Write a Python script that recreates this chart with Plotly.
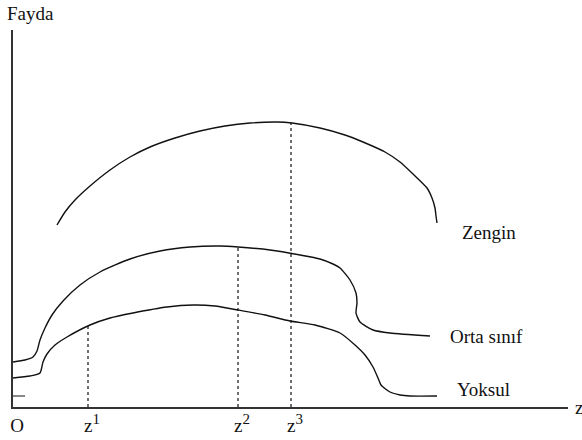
import plotly.graph_objects as go

# curve points (x = income z, y = utility)
zengin_x = [44, 52, 62, 77, 97, 117, 137, 162, 187, 212, 237, 264, 279, 307, 332, 350, 372, 387, 400, 414, 419, 422, 423, 424]
zengin_y = [182, 195, 207, 221, 237, 250, 260, 269, 276, 281, 284, 285, 284, 279, 272, 265, 255, 245, 233, 219, 209, 199, 191, 184]

orta_x = [0, 12, 20, 24, 27, 32, 39, 50, 67, 87, 117, 147, 177, 207, 225, 257, 287, 307, 320, 327, 337, 343, 344, 343, 347, 360, 377, 417]
orta_y = [45, 47, 50, 56, 67, 79, 92, 106, 122, 135, 148, 156, 160, 161, 160, 157, 152, 148, 143, 139, 127, 114, 104, 94, 85, 77, 74, 71]

yoksul_x = [0, 17, 27, 30, 34, 42, 54, 77, 97, 120, 154, 180, 202, 225, 252, 277, 302, 327, 342, 352, 360, 365, 368, 377, 387, 397, 424]
yoksul_y = [29, 31, 34, 45, 53, 62, 70, 82, 89, 94, 100, 102, 101, 97, 92, 86, 82, 74, 62, 52, 40, 29, 22, 15, 12, 11, 11]

z_vals = [0, 75, 225, 278]
z_text = ["O", "z<sup><span style='font-size:15px'>1</span></sup>",
          "z<sup><span style='font-size:15px'>2</span></sup>",
          "z<sup><span style='font-size:15px'>3</span></sup>"]
z_tops = [0, 82, 160, 284]

labels = ["Zengin", "Orta sınıf", "Yoksul"]
label_x = [447, 435, 442]
label_y = [175, 71, 18]

SERIF = "Liberation Serif, Times New Roman, serif"
INK = "#111111"

fig = go.Figure()
for xs, ys in [(zengin_x, zengin_y), (orta_x, orta_y), (yoksul_x, yoksul_y)]:
    fig.add_trace(go.Scatter(x=xs, y=ys, mode="lines", line=dict(color=INK, width=1.4, shape="spline", smoothing=0.6),
                             hoverinfo="skip", showlegend=False))

# dotted guides from the axis up to the curves
for zx, top in zip(z_vals[1:], z_tops[1:]):
    fig.add_trace(go.Scatter(x=[zx, zx], y=[0, top], mode="lines", line=dict(color=INK, width=1.2, dash="dot"),
                             hoverinfo="skip", showlegend=False))

# small stub on the y axis
fig.add_trace(go.Scatter(x=[0, 12], y=[11, 11], mode="lines", line=dict(color=INK, width=1),
                         hoverinfo="skip", showlegend=False))

for txt, lx, ly in zip(labels, label_x, label_y):
    fig.add_annotation(x=lx, y=ly, text=txt, showarrow=False, xanchor="left", yanchor="middle",
                       font=dict(family=SERIF, size=19, color=INK))

fig.add_annotation(x=0, y=1.0, xref="paper", yref="paper", xshift=-8, yshift=17, text="Fayda", showarrow=False,
                   xanchor="left", yanchor="middle", font=dict(family=SERIF, size=19, color=INK))
fig.add_annotation(x=1.0, y=0, xref="paper", yref="paper", xshift=5, text="z", showarrow=False,
                   xanchor="left", yanchor="middle", font=dict(family=SERIF, size=19, color=INK))

fig.update_xaxes(range=[0, 555], showgrid=False, zeroline=False, showline=True, linecolor="#333333", linewidth=2,
                 tickvals=z_vals, ticktext=z_text, ticks="", automargin=False, ticklabelshift=4,
                 tickfont=dict(family=SERIF, size=19, color=INK))
fig.update_yaxes(range=[0, 377], showgrid=False, zeroline=False, showline=True, linecolor="#333333", linewidth=2,
                 showticklabels=False, ticks="", automargin=False)

fig.update_layout(width=582, height=440, margin=dict(l=13, r=14, t=30, b=33, autoexpand=False),
                  plot_bgcolor="white", paper_bgcolor="white")

# drop the default 8px page margin so the figure sits at the window corner
fig.write_html("out.html", config={"displayModeBar": False},
               post_script="document.body.style.margin='0px';")
